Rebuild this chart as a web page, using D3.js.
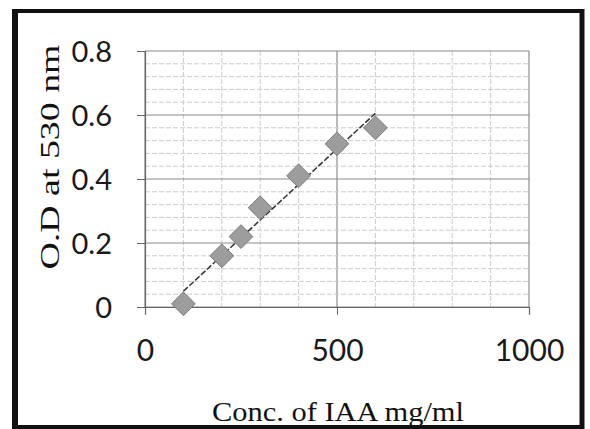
<!DOCTYPE html>
<html><head><meta charset="utf-8">
<script src="https://cdn.jsdelivr.net/npm/d3@7"></script>
<style>html,body{margin:0;padding:0;background:#fff;}svg{display:block;}</style>
</head><body>
<svg id="c" width="590" height="429"></svg>
<script>
const concIAA = [100, 200, 250, 300, 400, 500, 600];
const odValues = [0.01, 0.16, 0.22, 0.31, 0.41, 0.51, 0.56];
const xTicks = [0, 500, 1000];
const yTicks = [0, 0.2, 0.4, 0.6, 0.8];
const xTickLabels = ["0", "500", "1000"];
const yTickLabels = ["0", "0.2", "0.4", "0.6", "0.8"];
const xTitle = "Conc. of IAA mg/ml";
const yTitle = "O.D at 530 nm";

const svg = d3.select("#c");
const L = 145, R = 529, T = 51, B = 307;
const x = d3.scaleLinear().domain([0, 1000]).range([L, R]);
const y = d3.scaleLinear().domain([0, 0.8]).range([B, T]);

// outer frame
svg.append("rect").attr("x", 15).attr("y", 11).attr("width", 567).attr("height", 416)
  .attr("fill", "#fff").attr("stroke", "#111").attr("stroke-width", 4);
svg.append("line").attr("x1", 15).attr("x2", 15).attr("y1", 9).attr("y2", 429)
  .attr("stroke", "#111").attr("stroke-width", 6);
svg.append("line").attr("x1", 582).attr("x2", 582).attr("y1", 9).attr("y2", 429)
  .attr("stroke", "#111").attr("stroke-width", 5);

const g = svg.append("g");
// minor grid
const xMinor = d3.range(0, 1001, 100);
const yMinor = d3.range(0, 0.8001, 0.04);
g.selectAll(".vx").data(xMinor).join("line")
  .attr("x1", d => x(d)).attr("x2", d => x(d)).attr("y1", T).attr("y2", B)
  .attr("stroke", d => (d % 500 === 0) ? "#8f8a8a" : "#d2caca").attr("stroke-width", d => (d % 500 === 0) ? 1.2 : 1)
  .attr("stroke-dasharray", d => (d % 500 === 0) ? null : "5,2");
g.selectAll(".hy").data(yMinor).join("line")
  .attr("x1", L).attr("x2", R).attr("y1", d => y(d)).attr("y2", d => y(d))
  .attr("stroke", (d, i) => (i % 5 === 0) ? "#8f8a8a" : "#d2caca").attr("stroke-width", (d, i) => (i % 5 === 0) ? 1.2 : 1)
  .attr("stroke-dasharray", (d, i) => (i % 5 === 0) ? null : "5,2");

// axes
const yAxis = d3.axisLeft(y).tickValues(yTicks).tickFormat((d, i) => yTickLabels[i]).tickSize(8).tickPadding(25);
const xAxis = d3.axisBottom(x).tickValues(xTicks).tickFormat((d, i) => xTickLabels[i]).tickSize(8).tickPadding(20);
const ya = svg.append("g").attr("transform", `translate(${L},0)`).call(yAxis);
const xa = svg.append("g").attr("transform", `translate(0,${B})`).call(xAxis);
[ya, xa].forEach(a => {
  a.select(".domain").attr("stroke", "#666").attr("stroke-width", 1.2);
  a.selectAll(".tick line").attr("stroke", "#666");
  a.selectAll("text").attr("fill", "#1a1a1a").attr("font-family", "Lato, 'Open Sans', sans-serif");
});
ya.selectAll("text").attr("font-size", 29).attr("dy", "0.36em");
xa.selectAll("text").attr("font-size", 30).attr("dy", "0.85em");

// trendline (least squares)
const mx = d3.mean(concIAA), my = d3.mean(odValues);
const sxy = d3.sum(concIAA, (v, i) => (v - mx) * (odValues[i] - my));
const sxx = d3.sum(concIAA, v => (v - mx) * (v - mx));
const slope = sxy / sxx, icpt = my - slope * mx;
const x0 = d3.min(concIAA), x1 = d3.max(concIAA);
svg.append("line").attr("x1", x(x0)).attr("y1", y(slope * x0 + icpt))
  .attr("x2", x(x1)).attr("y2", y(slope * x1 + icpt))
  .attr("stroke", "#333").attr("stroke-width", 1.5).attr("stroke-dasharray", "6,2");

// diamonds
const sym = d3.symbol().type(d3.symbolDiamond2).size(360);
svg.selectAll(".pt").data(concIAA).join("path")
  .attr("d", sym)
  .attr("transform", (d, i) => `translate(${x(d)},${y(odValues[i])})`)
  .attr("fill", "#9d9d9d").attr("stroke", "#7a7a7a").attr("stroke-width", 1);

// titles
svg.append("text").attr("x", 338).attr("y", 421).attr("text-anchor", "middle")
  .attr("font-family", "'Liberation Serif', 'Times New Roman', serif").attr("font-size", 27)
  .attr("fill", "#111").attr("textLength", 252).attr("lengthAdjust", "spacingAndGlyphs").text(xTitle);
svg.append("text").attr("transform", "translate(59,157) rotate(-90)").attr("text-anchor", "middle")
  .attr("font-family", "'Liberation Serif', 'Times New Roman', serif").attr("font-size", 27)
  .attr("fill", "#111").attr("textLength", 225).attr("lengthAdjust", "spacingAndGlyphs").text(yTitle);
</script>
</body></html>
